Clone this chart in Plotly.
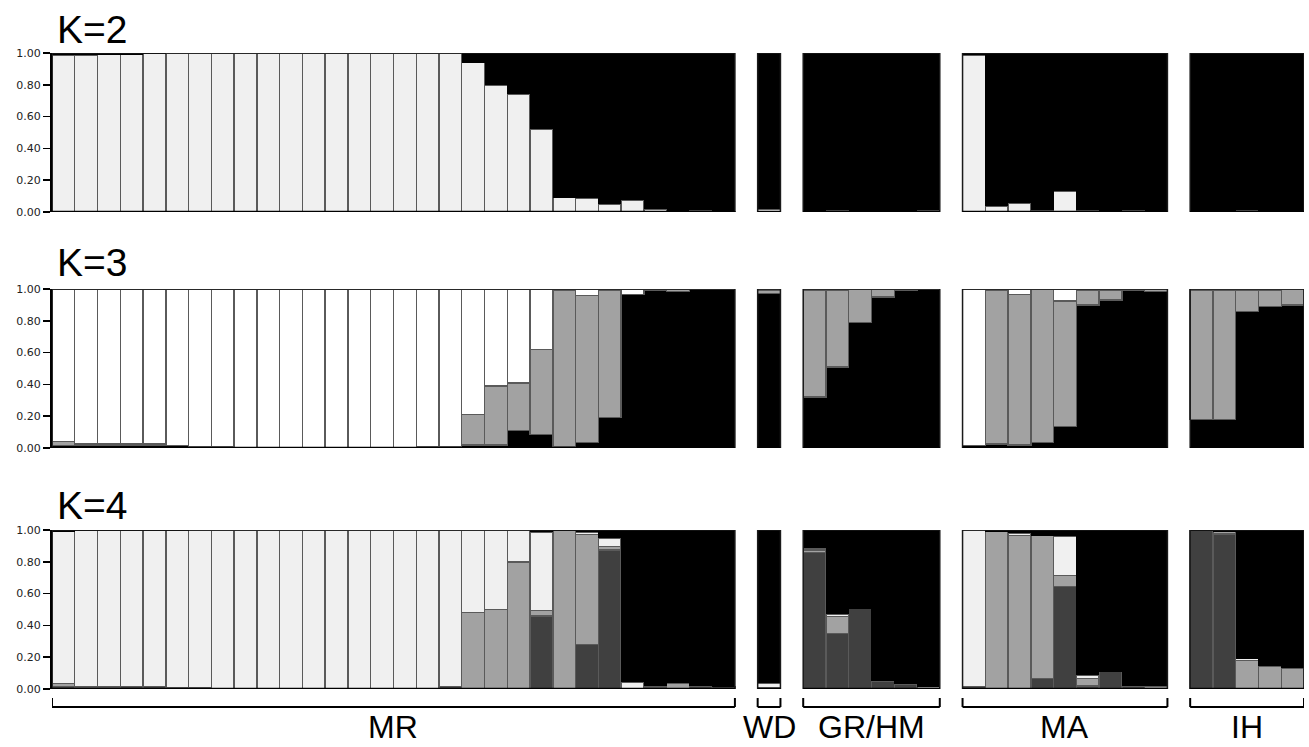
import plotly.graph_objects as go

# ---------------- data ----------------
groups = ["MR", "WD", "GR/HM", "MA", "IH"]
group_sizes = [30, 1, 6, 9, 5]
row_labels = ["K=2", "K=3", "K=4"]
tick_vals = [0.0, 0.2, 0.4, 0.6, 0.8, 1.0]

# K=2 (bottom -> top): light, black
k2_light = [0.985, 0.985, 0.99, 0.99, 0.995, 1, 1, 1, 1, 1, 1, 1, 1, 1, 1, 1, 1, 1,
            0.94, 0.80, 0.74, 0.52, 0.09, 0.085, 0.05, 0.075, 0.02, 0.005, 0.01, 0.005,
            0.02,
            0, 0.01, 0, 0, 0, 0.01,
            0.985, 0.035, 0.055, 0.01, 0.13, 0.01, 0, 0.01, 0,
            0, 0, 0.01, 0, 0]
k2_black = [0.015, 0.015, 0.01, 0.01, 0.005, 0, 0, 0, 0, 0, 0, 0, 0, 0, 0, 0, 0, 0,
            0.06, 0.20, 0.26, 0.48, 0.91, 0.915, 0.95, 0.925, 0.98, 0.995, 0.99, 0.995,
            0.98,
            1, 0.99, 1, 1, 1, 0.99,
            0.015, 0.965, 0.945, 0.99, 0.87, 0.99, 1, 0.99, 1,
            1, 1, 0.99, 1, 1]

# K=3 (bottom -> top): black, grey, white
k3_black = [0.015, 0.02, 0.02, 0.02, 0.02, 0.015, 0.01, 0.01, 0.005, 0.005, 0.005, 0.005,
            0.005, 0.005, 0.005, 0.005, 0.01, 0.01, 0.02, 0.02, 0.11, 0.085, 0.01, 0.035,
            0.19, 0.965, 0.99, 0.985, 0.995, 1.0,
            0.97,
            0.32, 0.51, 0.79, 0.95, 0.99, 0.995,
            0.015, 0.025, 0.02, 0.035, 0.135, 0.90, 0.93, 0.99, 0.985,
            0.18, 0.18, 0.86, 0.89, 0.90]
k3_grey = [0.025, 0.005, 0.005, 0.01, 0.01, 0, 0, 0, 0, 0, 0, 0,
           0, 0, 0, 0, 0, 0, 0.19, 0.37, 0.30, 0.535, 0.98, 0.925,
           0.80, 0, 0.01, 0.015, 0.005, 0,
           0.02,
           0.67, 0.48, 0.21, 0.05, 0.01, 0.005,
           0, 0.965, 0.945, 0.96, 0.79, 0.09, 0.06, 0.01, 0.015,
           0.81, 0.81, 0.13, 0.10, 0.095]
k3_white = [0.96, 0.975, 0.975, 0.97, 0.97, 0.985, 0.99, 0.99, 0.995, 0.995, 0.995, 0.995,
            0.995, 0.995, 0.995, 0.995, 0.99, 0.99, 0.79, 0.61, 0.59, 0.38, 0.01, 0.04,
            0.01, 0.035, 0, 0, 0, 0,
            0.01,
            0.01, 0.01, 0, 0, 0, 0,
            0.985, 0.01, 0.035, 0.005, 0.075, 0.01, 0.01, 0, 0,
            0.01, 0.01, 0.01, 0.01, 0.005]

# K=4 (bottom -> top): dark grey, mid grey, light, black
k4_dark = [0.015, 0.012, 0.012, 0.015, 0.015, 0.01, 0.01, 0.005, 0.005, 0.005, 0.005, 0.005,
           0.005, 0.005, 0.005, 0.005, 0.005, 0.015, 0.005, 0.005, 0.005, 0.46, 0, 0.28,
           0.875, 0, 0.01, 0, 0.02, 0.015,
           0.01,
           0.86, 0.35, 0.505, 0.05, 0.03, 0.005,
           0.015, 0.005, 0, 0.065, 0.645, 0.02, 0.11, 0.02, 0,
           0.995, 0.975, 0.005, 0, 0]
k4_grey = [0.02, 0, 0, 0, 0, 0, 0, 0, 0, 0, 0, 0,
           0, 0, 0, 0, 0, 0, 0.475, 0.495, 0.795, 0.035, 0.995, 0.69,
           0.02, 0, 0.01, 0.035, 0, 0,
           0,
           0.015, 0.105, 0, 0, 0, 0.01,
           0, 0.985, 0.965, 0.90, 0.07, 0.045, 0, 0, 0.02,
           0, 0.015, 0.175, 0.14, 0.13]
k4_light = [0.955, 0.983, 0.983, 0.98, 0.98, 0.985, 0.99, 0.995, 0.995, 0.995, 0.995, 0.995,
            0.995, 0.995, 0.995, 0.995, 0.995, 0.985, 0.52, 0.50, 0.20, 0.49, 0, 0.015,
            0.055, 0.045, 0, 0, 0, 0,
            0.025,
            0.01, 0.015, 0, 0, 0, 0,
            0.985, 0, 0.015, 0, 0.245, 0.02, 0, 0, 0,
            0, 0, 0.01, 0.005, 0.005]
k4_black = [0.01, 0.005, 0.005, 0.005, 0.005, 0.005, 0, 0, 0, 0, 0, 0,
            0, 0, 0, 0, 0, 0, 0, 0, 0, 0.015, 0.005, 0.015,
            0.05, 0.955, 0.98, 0.965, 0.98, 0.985,
            0.965,
            0.115, 0.53, 0.495, 0.95, 0.97, 0.985,
            0, 0.01, 0.02, 0.035, 0.04, 0.915, 0.89, 0.98, 0.98,
            0.005, 0.01, 0.81, 0.855, 0.865]

rows = [
    [(k2_light, "#f0f0f0"), (k2_black, "#000000")],
    [(k3_black, "#000000"), (k3_grey, "#a2a2a2"), (k3_white, "#ffffff")],
    [(k4_dark, "#404040"), (k4_grey, "#a2a2a2"), (k4_light, "#f0f0f0"), (k4_black, "#000000")],
]

# ---------------- layout geometry ----------------
W, H = 1309, 747
xpos, group_ranges = [], []
cur = 0
for size in group_sizes:
    start = cur
    for _ in range(size):
        xpos.append(cur)
        cur += 1
    group_ranges.append((start, cur - 1))
    cur += 1
x_range = [-0.5, cur - 1.5]

row_px = [(53, 212), (289, 448), (530, 689)]  # top, bottom in pixels
label_px = [29, 263, 505]

fig = go.Figure()
for r, comps in enumerate(rows):
    ax = "" if r == 0 else str(r + 1)
    for vals, col in comps:
        is_black = col == "#000000"
        fig.add_trace(go.Bar(
            x=xpos, y=vals, width=1.0,
            marker=dict(color=col,
                        line=dict(color="#000000" if is_black else "#5a5a5a",
                                  width=0 if is_black else 1.4)),
            xaxis="x" + ax, yaxis="y" + ax, showlegend=False, hoverinfo="skip"))

layout = dict(
    width=W, height=H, barmode="stack", bargap=0,
    margin=dict(l=52, r=5, t=0, b=0, autoexpand=False),
    plot_bgcolor="white", paper_bgcolor="white",
    showlegend=False,
)
shapes, annotations = [], []
for r in range(3):
    ax = "" if r == 0 else str(r + 1)
    top, bot = row_px[r]
    dom = [1 - bot / H, 1 - top / H]
    layout["xaxis" + ax] = dict(range=x_range, visible=False, domain=[0, 1],
                                anchor="y" + ax, fixedrange=True, automargin=False)
    layout["yaxis" + ax] = dict(
        range=[0, 1], domain=dom, anchor="x" + ax, automargin=False,
        tickvals=tick_vals, tickformat=".2f",
        ticks="outside", ticklen=7, tickwidth=1.5, tickcolor="black",
        showline=True, linecolor="black", linewidth=2,
        showgrid=False, zeroline=False,
        tickfont=dict(family="DejaVu Sans", size=11, color="#222"),
    )
    for (g0, g1) in group_ranges:
        shapes.append(dict(type="rect", xref="x" + ax, yref="y" + ax,
                           x0=g0 - 0.5, x1=g1 + 0.5, y0=0, y1=1,
                           line=dict(color="#1a1a1a", width=1.5), layer="above"))
        shapes.append(dict(type="line", xref="x" + ax, yref="y" + ax,
                           x0=g0 - 0.5, x1=g1 + 0.5, y0=0, y1=0,
                           line=dict(color="black", width=2.5), layer="above"))
    annotations.append(dict(text=row_labels[r], xref="paper", yref="paper",
                            x=3 / 1252, y=1 - label_px[r] / H, xanchor="left",
                            yanchor="middle", showarrow=False,
                            font=dict(family="Liberation Sans", size=39, color="black")))

# brackets + group labels below the bottom row
yb = 1 - 707 / H
yt = 1 - 698 / H
for name, (g0, g1) in zip(groups, group_ranges):
    a, b = g0 - 0.5, g1 + 0.5
    shapes.append(dict(type="line", xref="x3", yref="paper", x0=a, x1=b, y0=yb, y1=yb,
                       line=dict(color="black", width=2)))
    shapes.append(dict(type="line", xref="x3", yref="paper", x0=a, x1=a, y0=yb, y1=yt,
                       line=dict(color="black", width=2)))
    shapes.append(dict(type="line", xref="x3", yref="paper", x0=b, x1=b, y0=yb, y1=yt,
                       line=dict(color="black", width=2)))
    annotations.append(dict(text=name, xref="x3", yref="paper", x=(a + b) / 2,
                            y=0, xanchor="center", yanchor="bottom",
                            showarrow=False,
                            font=dict(family="Liberation Sans", size=32, color="black")))

layout["shapes"] = shapes
layout["annotations"] = annotations
fig.update_layout(**layout)
fig.write_html("out.html", config={"displayModeBar": False, "staticPlot": True},
               post_script="document.body.style.margin='0';document.body.style.overflow='hidden';")
